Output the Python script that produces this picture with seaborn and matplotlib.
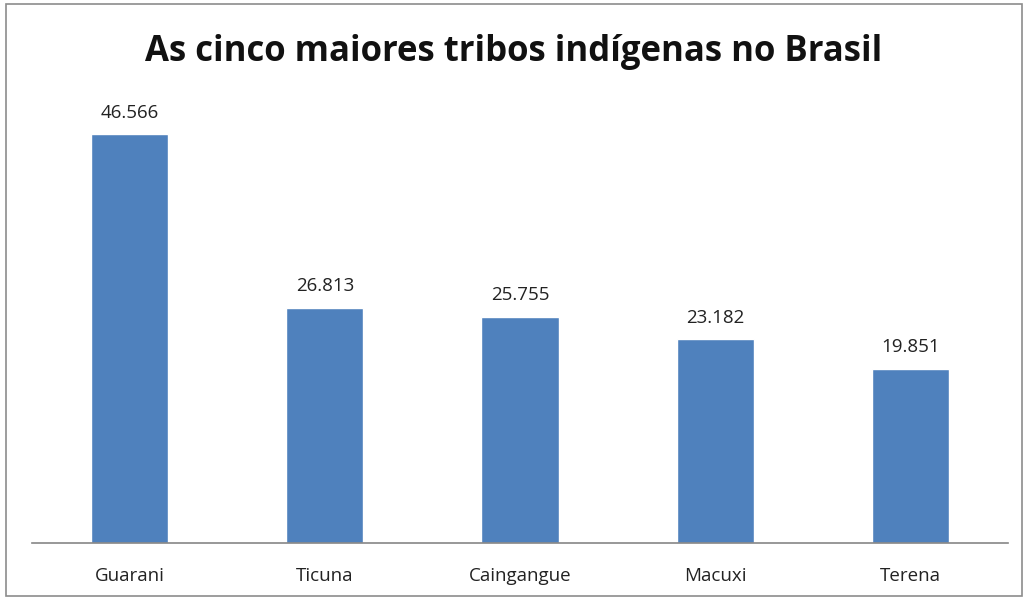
import matplotlib
matplotlib.use("Agg")
import matplotlib.pyplot as plt
import seaborn as sns
import pandas as pd
from matplotlib.patches import Rectangle

# Data
tribes = ["Guarani", "Ticuna", "Caingangue", "Macuxi", "Terena"]
population = [46566, 26813, 25755, 23182, 19851]
value_labels = ["46.566", "26.813", "25.755", "23.182", "19.851"]

sns.set_style("white")
plt.rcParams['font.family'] = ['Open Sans', 'DejaVu Sans']

df = pd.DataFrame({"tribo": tribes, "populacao": population})

fig = plt.figure(figsize=(10.27, 5.98), dpi=100)
ax = fig.add_axes([32 / 1027, 55 / 598, 976 / 1027, 439 / 598])

sns.barplot(data=df, x="tribo", y="populacao", color="#4F81BD",
            saturation=1, width=0.395, ax=ax)

ax.set_ylim(0, 50000)
ax.set_xlim(-0.5, 4.5)
ax.set_yticks([])
ax.set_xlabel("")
ax.set_ylabel("")
for side in ["top", "right", "left"]:
    ax.spines[side].set_visible(False)
ax.spines["bottom"].set_color("#868686")
ax.spines["bottom"].set_linewidth(1.2)
ax.tick_params(axis="x", length=0, pad=17, labelsize=13.5, labelcolor="#222222")

for i, lab in enumerate(value_labels):
    ax.annotate(lab, (i, population[i]), xytext=(0, 9), textcoords="offset points",
                ha="center", va="bottom", fontsize=13.5, color="#222222")

fig.text(0.5, 0.913, "As cinco maiores tribos indígenas no Brasil",
         ha="center", va="center", fontsize=25, fontweight="bold", color="#111111")

# outer chart border
fig.patches.append(Rectangle((6 / 1027, 2 / 598), 1016 / 1027, 592 / 598,
                             transform=fig.transFigure, fill=False,
                             edgecolor="#8c8c8c", linewidth=1.2))

fig.savefig("out.png", dpi=100, facecolor="white")
